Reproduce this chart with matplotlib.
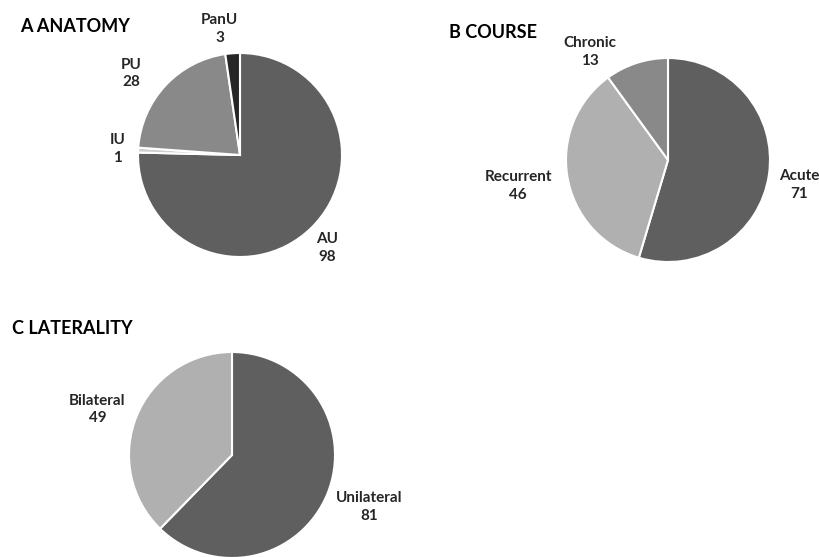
import numpy as np
import matplotlib
matplotlib.use("Agg")
import matplotlib.pyplot as plt

plt.rcParams['font.family'] = ['Lato', 'DejaVu Sans']

# data
anatomy_labels = ['AU', 'IU', 'PU', 'PanU']
anatomy_counts = [98, 1, 28, 3]
anatomy_colors = ['#5f5f5f', '#cfcfcf', '#898989', '#262626']

course_labels = ['Acute', 'Recurrent', 'Chronic']
course_counts = [71, 46, 13]
course_colors = ['#5f5f5f', '#b0b0b0', '#898989']

lat_labels = ['Unilateral', 'Bilateral']
lat_counts = [81, 49]
lat_colors = ['#5f5f5f', '#b0b0b0']

W, H = 819, 557
fig = plt.figure(figsize=(W / 100, H / 100), dpi=100)
K = 1.7


def pie_ax(cx, cy, r):
    # place an axes so the unit pie lands at pixel centre (cx, cy) with radius r
    ax = fig.add_axes([(cx - K * r) / W, (H - cy - K * r) / H, 2 * K * r / W, 2 * K * r / H])
    return ax


def draw_pie(ax, counts, labels, colors, label_pos):
    wedges, _ = ax.pie(counts, colors=colors, startangle=90, counterclock=False,
                       wedgeprops=dict(edgecolor='white', linewidth=1.5))
    for w, lab, n, (dang, dist) in zip(wedges, labels, counts, label_pos):
        mid = np.deg2rad((w.theta1 + w.theta2) / 2 + dang)
        ax.text(dist * np.cos(mid), dist * np.sin(mid), f'{lab}\n{n}',
                ha='center', va='center', fontsize=11, fontweight='bold',
                color='#262626', linespacing=1.35, clip_on=False)
    ax.set_xlim(-K, K)
    ax.set_ylim(-K, K)
    ax.set_aspect('equal')
    ax.axis('off')


ax_a = pie_ax(240, 155, 102)
draw_pie(ax_a, anatomy_counts, anatomy_labels, anatomy_colors,
         [(-1, 1.25), (0, 1.2), (6, 1.33), (5, 1.25)])

ax_b = pie_ax(668, 160, 102)
draw_pie(ax_b, course_counts, course_labels, course_colors,
         [(-2.5, 1.31), (0, 1.49), (18, 1.31)])

ax_c = pie_ax(232, 455, 103)
draw_pie(ax_c, lat_counts, lat_labels, lat_colors,
         [(1.5, 1.42), (3.5, 1.38)])

fig.text(20 / W, 1 - 26 / H, 'A ANATOMY', fontsize=13, fontweight='bold', va='center', ha='left')
fig.text(449 / W, 1 - 33 / H, 'B COURSE', fontsize=13, fontweight='bold', va='center', ha='left')
fig.text(12 / W, 1 - 328 / H, 'C LATERALITY', fontsize=13, fontweight='bold', va='center', ha='left')

fig.savefig('out.png', dpi=100, facecolor='white')
